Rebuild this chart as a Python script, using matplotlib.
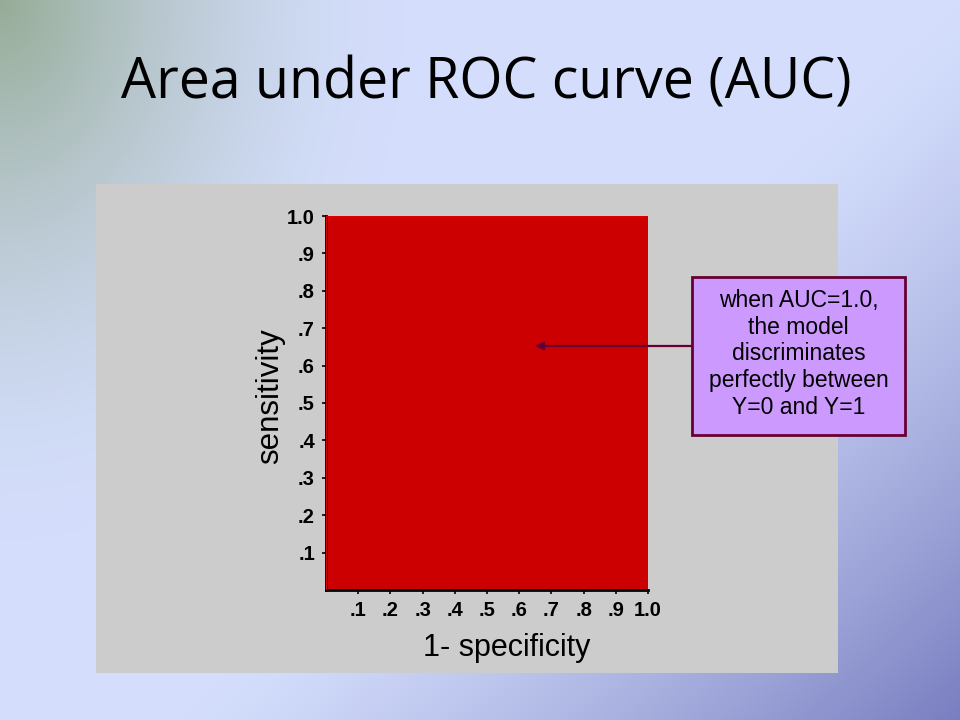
import numpy as np
import matplotlib
matplotlib.use("Agg")
import matplotlib.pyplot as plt
from matplotlib.patches import Rectangle

# ---- data ----
fpr = [0.0, 0.0, 1.0]          # 1 - specificity
tpr = [0.0, 1.0, 1.0]          # sensitivity
tick_values = [0.1, 0.2, 0.3, 0.4, 0.5, 0.6, 0.7, 0.8, 0.9, 1.0]
tick_labels = ['.1', '.2', '.3', '.4', '.5', '.6', '.7', '.8', '.9', '1.0']
title = "Area under ROC curve (AUC)"
xlabel = "1- specificity"
ylabel = "sensitivity"
note = "when AUC=1.0,\nthe model\ndiscriminates\nperfectly between\nY=0 and Y=1"

W, H = 960, 720
fig = plt.figure(figsize=(W / 100, H / 100), dpi=100)

# ---- gradient background ----
bg = fig.add_axes([0, 0, 1, 1], zorder=0)
yy, xx = np.mgrid[0:H, 0:W]
u = xx / W
v = yy / H
base = np.array([212, 222, 252], float)
img = np.ones((H, W, 3)) * base
d = np.clip((u * 0.55 + v * 0.45 - 0.55) / 0.45, 0, 1) ** 1.3
dark = np.array([120, 126, 192], float)
img = img * (1 - d[..., None]) + dark * d[..., None]
g = np.clip(1 - np.sqrt((u / 0.42) ** 2 + (v / 0.75) ** 2), 0, 1) ** 1.6
green = np.array([150, 172, 150], float)
img = img * (1 - g[..., None]) + green * g[..., None]
bg.imshow(img.astype(np.uint8), extent=[0, 1, 0, 1], aspect='auto', zorder=0)
bg.set_xlim(0, 1)
bg.set_ylim(0, 1)
bg.axis('off')

# gray panel
bg.add_patch(Rectangle((96 / W, 1 - 673 / H), (838 - 96) / W, (673 - 184) / H,
                       facecolor='#cccccc', edgecolor='none', zorder=1))

# title
bg.text(486 / W, 1 - 84 / H, title, ha='center', va='center',
        fontsize=40, family='Open Sans', color='black', zorder=2)

# ---- ROC axes ----
ax = fig.add_axes([326 / W, 1 - 590 / H, (648 - 326) / W, (590 - 216) / H], zorder=1)
ax.set_facecolor('none')
ax.fill_between(fpr, tpr, 0, color='#cc0000', linewidth=0, zorder=2)
ax.plot(fpr, tpr, color='#e00000', lw=1.5, zorder=3)
ax.set_xlim(0, 1)
ax.set_ylim(0, 1)
ax.set_xticks(tick_values)
ax.set_xticklabels(tick_labels, fontsize=14.5, fontweight='bold', family='Liberation Sans')
ax.set_yticks(tick_values)
ax.set_yticklabels(tick_labels, fontsize=14.5, fontweight='bold', family='Liberation Sans')
ax.tick_params(axis='both', length=3, width=1.2, color='black', pad=5)
for s in ['top', 'right']:
    ax.spines[s].set_visible(False)
for s in ['left', 'bottom']:
    ax.spines[s].set_linewidth(2)
    ax.spines[s].set_color('black')

bg.text(507 / W, 1 - 648 / H, xlabel, ha='center', va='center',
        fontsize=22, family='Liberation Sans', zorder=2)
bg.text(270 / W, 1 - 396 / H, ylabel, ha='center', va='center', rotation=90,
        fontsize=22.5, family='Liberation Sans', zorder=2)

# ---- annotation box (above the ROC axes) ----
over = fig.add_axes([0, 0, 1, 1], zorder=2)
over.set_xlim(0, 1)
over.set_ylim(0, 1)
over.axis('off')
bx0, bx1, by0, by1 = 692, 905, 277, 435
over.add_patch(Rectangle((bx0 / W, 1 - by1 / H), (bx1 - bx0) / W, (by1 - by0) / H,
                         facecolor='#cc99ff', edgecolor='#660033', lw=2))
over.text((bx0 + bx1) / 2 / W, 1 - (by0 + by1 - 4) / 2 / H, note, ha='center', va='center',
          fontsize=16.5, family='Liberation Sans', linespacing=1.2)
over.annotate('', xy=(535 / W, 1 - 346 / H), xytext=(bx0 / W, 1 - 346 / H),
              arrowprops=dict(arrowstyle='-|>', color='#660033', lw=1.6,
                              mutation_scale=12, shrinkA=0, shrinkB=0))

fig.savefig('out.png', dpi=100)
